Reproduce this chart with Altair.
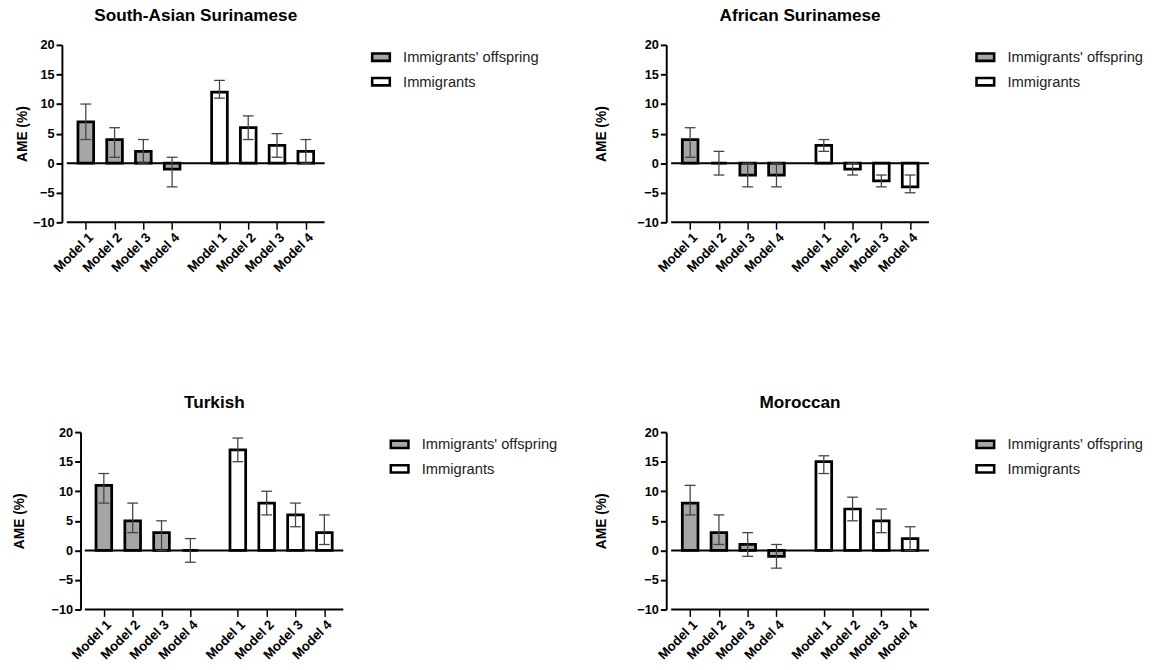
import altair as alt
import pandas as pd

FONT = "Liberation Sans"

groups = ["South-Asian Surinamese", "African Surinamese", "Turkish", "Moroccan"]
models = ["Model 1", "Model 2", "Model 3", "Model 4"]
generations = ["Immigrants' offspring", "Immigrants"]

# AME (%) with lower / upper CI bounds, per group
sa_off = [7, 4, 2, -1]
sa_off_lo = [4, 1, 0, -4]
sa_off_hi = [10, 6, 4, 1]
sa_imm = [12, 6, 3, 2]
sa_imm_lo = [11, 4, 1, 0]
sa_imm_hi = [14, 8, 5, 4]

af_off = [4, 0, -2, -2]
af_off_lo = [1, -2, -4, -4]
af_off_hi = [6, 2, 0, 0]
af_imm = [3, -1, -3, -4]
af_imm_lo = [2, -2, -4, -5]
af_imm_hi = [4, 0, -2, -2]

tr_off = [11, 5, 3, 0]
tr_off_lo = [8, 3, 0, -2]
tr_off_hi = [13, 8, 5, 2]
tr_imm = [17, 8, 6, 3]
tr_imm_lo = [15, 6, 4, 1]
tr_imm_hi = [19, 10, 8, 6]

mo_off = [8, 3, 1, -1]
mo_off_lo = [6, 1, -1, -3]
mo_off_hi = [11, 6, 3, 1]
mo_imm = [15, 7, 5, 2]
mo_imm_lo = [13, 5, 3, 0]
mo_imm_hi = [16, 9, 7, 4]

y_ticks = [-10, -5, 0, 5, 10, 15, 20]

GAP = 4.645  # slot offset of the second group (layout)
positions = [i + 1 for i in range(4)] + [i + 1 + GAP for i in range(4)]
XMIN, XMAX = 0.34, 9.3       # x extent of the axes
PX_PER_UNIT = 273 / (XMAX - XMIN)


def make_df(off, off_lo, off_hi, imm, imm_lo, imm_hi):
    rows = []
    for i, m in enumerate(models):
        rows.append(dict(model=m, gen=generations[0], pos=i + 1,
                         ame=off[i], lo=off_lo[i], hi=off_hi[i]))
    for i, m in enumerate(models):
        rows.append(dict(model=m, gen=generations[1], pos=i + 1 + GAP,
                         ame=imm[i], lo=imm_lo[i], hi=imm_hi[i]))
    return pd.DataFrame(rows)


AX = dict(grid=False, tickColor="black",
          labelColor="black", labelFont=FONT, labelFontWeight="bold",
          titleFont=FONT, titleFontWeight="bold", titleColor="black", labelOverlap=False,
          tickCount=20)


def panel(name, df, title_pad, shift=0):
    # shift: extra pixels of empty plot area left of the y axis
    lo_dom = XMIN - shift / PX_PER_UNIT
    xs = alt.Scale(domain=[lo_dom, XMAX], nice=False, zero=False)
    ys = alt.Scale(domain=[-10, 20], nice=False)
    x = alt.X("pos:Q", scale=xs,
              axis=alt.Axis(values=positions, title=None, labelAngle=-45, domain=False,
                            labelAlign="right", labelBaseline="top", labelFontSize=13.5,
                            tickSize=7, tickWidth=1.5, labelPadding=1,
                            labelExpr="'Model ' + (datum.value < 5 ? datum.value : round(datum.value - 4.645))",
                            **AX))
    yaxis = dict(values=y_ticks, title="AME (%)", titlePadding=title_pad, domainColor="black",
                 domainWidth=2, labelFontSize=13, tickSize=6, tickWidth=2, titleFontSize=14, **AX)
    if shift:
        yaxis["offset"] = -shift
    y = alt.Y("ame:Q", scale=ys, axis=alt.Axis(**yaxis))
    base = alt.Chart(df)
    bars = base.mark_bar(stroke="black", strokeWidth=2.8, size=16).encode(
        x=x, y=y,
        color=alt.Color("gen:N",
                        scale=alt.Scale(domain=generations, range=["#a6a6a6", "#ffffff"]),
                        legend=alt.Legend(title=None, orient="right", offset=40, padding=2,
                                          symbolType="M-1,-0.42H1V0.42H-1Z", symbolSize=324,
                                          symbolStrokeColor="black", symbolStrokeWidth=2.6,
                                          labelFont=FONT, labelFontSize=15, labelColor="#222222",
                                          labelOffset=12, rowPadding=5)),
    )
    lines_df = pd.DataFrame({"x1": [XMIN, XMIN], "x2": [XMAX, XMAX], "yv": [0, -10]})
    lines = alt.Chart(lines_df).mark_rule(color="black", strokeWidth=2).encode(
        x=alt.X("x1:Q", scale=xs), x2="x2:Q", y=alt.Y("yv:Q", scale=ys))
    err = base.mark_rule(color="#444444", strokeWidth=1.3).encode(
        x=alt.X("pos:Q", scale=xs), y=alt.Y("lo:Q", scale=ys), y2="hi:Q")
    cap_lo = base.mark_rule(color="#444444", strokeWidth=1.3, xOffset=-5.5, x2Offset=5.5).encode(
        x=alt.X("pos:Q", scale=xs), x2="pos:Q", y=alt.Y("lo:Q", scale=ys))
    cap_hi = base.mark_rule(color="#444444", strokeWidth=1.3, xOffset=-5.5, x2Offset=5.5).encode(
        x=alt.X("pos:Q", scale=xs), x2="pos:Q", y=alt.Y("hi:Q", scale=ys))
    return alt.layer(bars, lines, err, cap_lo, cap_hi).properties(
        width=273 + shift, height=181,
        title=alt.TitleParams(name, font=FONT, fontSize=17.5, fontWeight="bold",
                              color="black", anchor="middle", offset=15, dx=shift / 2),
    )


p1 = panel(groups[0], make_df(sa_off, sa_off_lo, sa_off_hi, sa_imm, sa_imm_lo, sa_imm_hi), 3)
p2 = panel(groups[1], make_df(af_off, af_off_lo, af_off_hi, af_imm, af_imm_lo, af_imm_hi), 28.5)
p3 = panel(groups[2], make_df(tr_off, tr_off_lo, tr_off_hi, tr_imm, tr_imm_lo, tr_imm_hi), 25, shift=19)
p4 = panel(groups[3], make_df(mo_off, mo_off_lo, mo_off_hi, mo_imm, mo_imm_lo, mo_imm_hi), 28.5)

chart = alt.concat(p1, p2, p3, p4, columns=2, align="each",
                   spacing={"row": 121, "column": 35.5}).resolve_scale(
    color="independent"
).resolve_legend(
    color="independent"
).properties(
    padding={"left": 4, "top": -8, "right": 5, "bottom": 0}, background="white"
).configure_view(stroke=None)

chart.save("out.html", embed_options={"renderer": "svg", "actions": False})
